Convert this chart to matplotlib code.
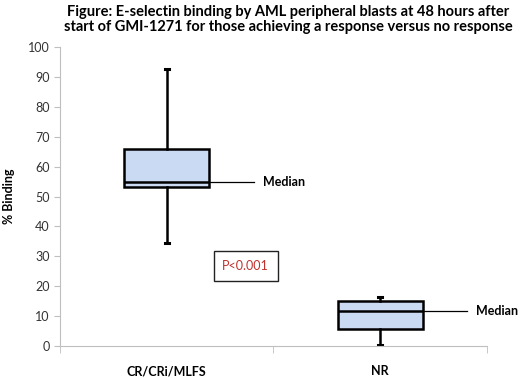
import matplotlib.pyplot as plt

plt.rcParams["font.family"] = ["Lato", "DejaVu Sans"]

# data
groups = ["CR/CRi/MLFS", "NR"]
whis_lo = [34.5, 0.5]
q1 = [53.2, 5.6]
medians = [54.7, 11.8]
q3 = [65.8, 15.0]
whis_hi = [92.8, 16.5]
p_text = "P<0.001"

title = ("Figure: E-selectin binding by AML peripheral blasts at 48 hours after\n"
         "start of GMI-1271 for those achieving a response versus no response")

fig = plt.figure(figsize=(5.2, 3.79), dpi=100)
ax = fig.add_axes([0.1154, 0.087, 0.821, 0.789])

positions = [0.5, 1.5]
stats = [
    {"label": g, "whislo": lo, "q1": a, "med": m, "q3": b, "whishi": hi, "fliers": []}
    for g, lo, a, m, b, hi in zip(groups, whis_lo, q1, medians, q3, whis_hi)
]
ax.bxp(
    stats,
    positions=positions,
    widths=0.40,
    patch_artist=True,
    showfliers=False,
    boxprops=dict(facecolor="#c9daf2", edgecolor="black", linewidth=1.8),
    medianprops=dict(color="black", linewidth=1.8),
    whiskerprops=dict(color="black", linewidth=1.8),
    capprops=dict(color="black", linewidth=2.2),
    capwidths=0.02,
)

# median callouts
for pos, m in zip(positions, medians):
    ax.plot([pos + 0.2, pos + 0.407], [m, m], color="black", lw=0.9)
    ax.text(pos + 0.45, m, "Median", fontsize=9, fontweight="bold",
            va="center", ha="left")

ax.text(0.87, 26.8, p_text, color="#c0302c", fontsize=9, ha="center", va="center",
        bbox=dict(boxstyle="square,pad=0.7", fc="white", ec="#222222", lw=1.0))

ax.set_xlim(0, 2)
ax.set_ylim(0, 100)
ax.set_yticks(range(0, 101, 10))
ax.set_xticks(positions)
ax.set_xticklabels(groups, fontweight="bold", fontsize=9)
ax.set_xticks([0, 1, 2], minor=True)
ax.tick_params(axis="x", which="major", length=0, pad=14)
ax.tick_params(axis="x", which="minor", length=5, color="#bfbfbf", direction="out")
ax.tick_params(axis="y", length=4, color="#bfbfbf", labelsize=9, labelcolor="#333333")
for s in ["top", "right"]:
    ax.spines[s].set_visible(False)
for s in ["left", "bottom"]:
    ax.spines[s].set_color("#bfbfbf")
ax.set_ylabel("% Binding", fontweight="bold", fontsize=9, labelpad=9)

fig.text(0.555, 0.988, title, ha="center", va="top", fontsize=10.5,
         fontweight="bold", linespacing=1.15)

fig.savefig("out.png", dpi=100)
